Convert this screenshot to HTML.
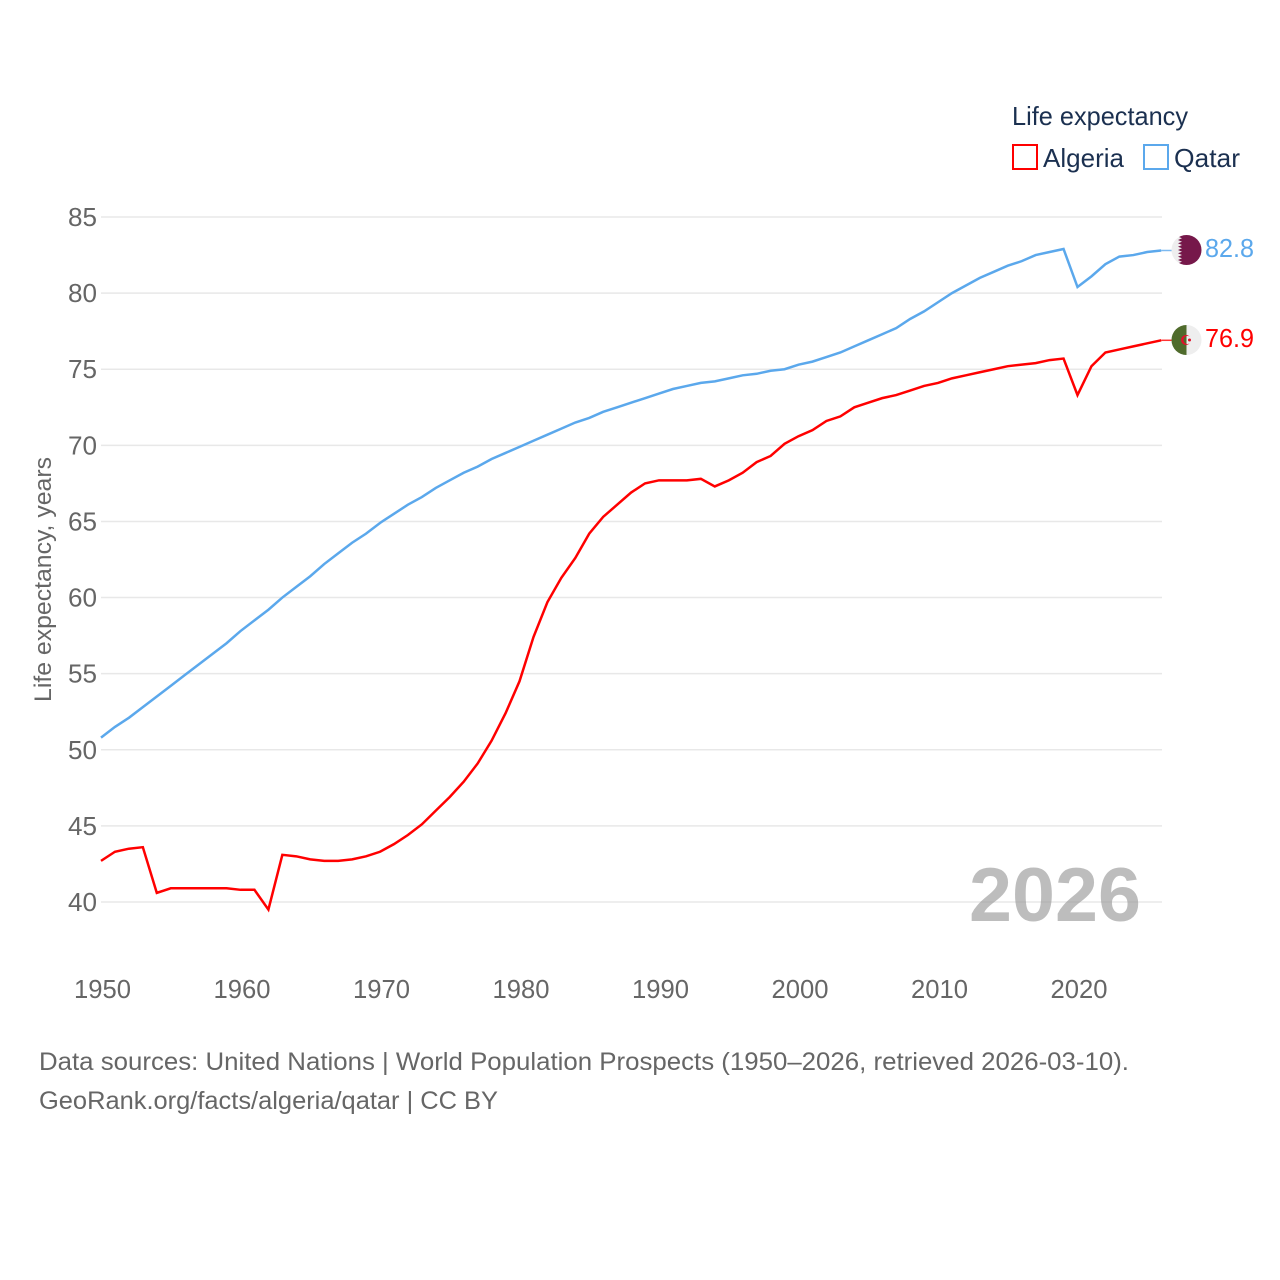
<!DOCTYPE html>
<html lang="en">
<head>
<meta charset="utf-8">
<title>Life expectancy: Algeria and Qatar</title>
<style>
html,body{margin:0;padding:0;background:#fff;}
svg{display:block;}
text{font-family:"Liberation Sans",sans-serif;}
</style>
</head>
<body>
<svg id="chart" xmlns="http://www.w3.org/2000/svg" width="1280" height="1280" viewBox="0 0 1280 1280">
  <rect x="0" y="0" width="1280" height="1280" fill="#ffffff"/>
  <g id="grid"></g>
  <g id="yticks"></g>
  <g id="xticks"></g>
  <text transform="translate(51,579.5) rotate(-90)" text-anchor="middle" font-size="24.5" fill="#666666" textLength="245" lengthAdjust="spacingAndGlyphs">Life expectancy, years</text>
  <text x="969" y="921" font-size="76" font-weight="700" fill="#999999" fill-opacity="0.65" textLength="172" lengthAdjust="spacingAndGlyphs">2026</text>
  <g id="series"></g>
  <g>
    <text x="1012" y="125" font-size="26" fill="#1b3050" textLength="176" lengthAdjust="spacingAndGlyphs">Life expectancy</text>
    <g>
      <rect x="1013" y="145" width="24" height="24" fill="none" stroke="#ff0000" stroke-width="2"/>
      <text x="1043" y="167" font-size="26" fill="#1b3050" textLength="81" lengthAdjust="spacingAndGlyphs">Algeria</text>
    </g>
    <g>
      <rect x="1144" y="145" width="24" height="24" fill="none" stroke="#5ba8ec" stroke-width="2"/>
      <text x="1174" y="167" font-size="26" fill="#1b3050" textLength="66" lengthAdjust="spacingAndGlyphs">Qatar</text>
    </g>
  </g>
  <defs>
    <clipPath id="flag-clip-qatar"><circle cx="1186.5" cy="250" r="15"/></clipPath>
    <clipPath id="flag-clip-algeria"><circle cx="1186.5" cy="340" r="15"/></clipPath>
  </defs>
  <g clip-path="url(#flag-clip-qatar)">
    <rect x="1171" y="234" width="31" height="32" fill="#eeeeee"/>
    <polygon fill="#76184a" points="1202,235 1182,235 1178,236.6 1182,238.3 1178,240 1182,241.7 1178,243.3 1182,245 1178,246.7 1182,248.3 1178,250 1182,251.7 1178,253.3 1182,255 1178,256.7 1182,258.3 1178,260 1182,261.7 1178,263.3 1182,265 1202,265"/>
  </g>
  <g clip-path="url(#flag-clip-algeria)">
    <rect x="1171" y="324" width="31" height="32" fill="#eeeeee"/>
    <rect x="1171" y="324" width="15.5" height="32" fill="#4f6b2c"/>
    <path fill="#e0102a" d="M1189.75,336.69 A5,5 0 1 0 1189.75,343.31 A4,4 0 1 1 1189.75,336.69 Z"/>
    <circle cx="1189.5" cy="340" r="1.5" fill="#e0102a"/>
  </g>
  <text x="1205" y="257" font-size="26" fill="#5ba8ec" textLength="49" lengthAdjust="spacingAndGlyphs">82.8</text>
  <text x="1205" y="347" font-size="26" fill="#ff0000" textLength="49" lengthAdjust="spacingAndGlyphs">76.9</text>
  <text x="39" y="1070" font-size="25" fill="#666666" textLength="1090" lengthAdjust="spacingAndGlyphs">Data sources: United Nations | World Population Prospects (1950–2026, retrieved 2026-03-10).</text>
  <text x="39" y="1109" font-size="25" fill="#666666" textLength="459" lengthAdjust="spacingAndGlyphs">GeoRank.org/facts/algeria/qatar | CC BY</text>
</svg>
<script>
const startYear = 1950;
const yTickLabels = [40, 45, 50, 55, 60, 65, 70, 75, 80, 85];
const xTickLabels = [1950, 1960, 1970, 1980, 1990, 2000, 2010, 2020];
const algeriaValues = [42.7,43.3,43.5,43.6,40.6,40.9,40.9,40.9,40.9,40.9,
  40.8,40.8,39.5,43.1,43.0,42.8,42.7,42.7,42.8,43.0,
  43.3,43.8,44.4,45.1,46.0,46.9,47.9,49.1,50.6,52.4,
  54.5,57.4,59.7,61.3,62.6,64.2,65.3,66.1,66.9,67.5,
  67.7,67.7,67.7,67.8,67.3,67.7,68.2,68.9,69.3,70.1,
  70.6,71.0,71.6,71.9,72.5,72.8,73.1,73.3,73.6,73.9,
  74.1,74.4,74.6,74.8,75.0,75.2,75.3,75.4,75.6,75.7,
  73.3,75.2,76.1,76.3,76.5,76.7,76.9];
const qatarValues = [50.8,51.5,52.1,52.8,53.5,54.2,54.9,55.6,56.3,57.0,
  57.8,58.5,59.2,60.0,60.7,61.4,62.2,62.9,63.6,64.2,
  64.9,65.5,66.1,66.6,67.2,67.7,68.2,68.6,69.1,69.5,
  69.9,70.3,70.7,71.1,71.5,71.8,72.2,72.5,72.8,73.1,
  73.4,73.7,73.9,74.1,74.2,74.4,74.6,74.7,74.9,75.0,
  75.3,75.5,75.8,76.1,76.5,76.9,77.3,77.7,78.3,78.8,
  79.4,80.0,80.5,81.0,81.4,81.8,82.1,82.5,82.7,82.9,
  80.4,81.1,81.9,82.4,82.5,82.7,82.8];

const NS = 'http://www.w3.org/2000/svg';
const xScale = function (year) { return 101 + (year - 1950) * 13.95; };
const yScale = function (value) { return 217 + (85 - value) * 15.222; };

const grid = document.getElementById('grid');
const yticks = document.getElementById('yticks');
const xticks = document.getElementById('xticks');
const seriesGroup = document.getElementById('series');

yTickLabels.forEach(function (tick) {
  const line = document.createElementNS(NS, 'line');
  
  
  line.setAttribute('x1', xScale(1950));
  line.setAttribute('x2', 1162);
  line.setAttribute('y1', yScale(tick));
  line.setAttribute('y2', yScale(tick));
  line.setAttribute('stroke', '#e8e8e8');
  line.setAttribute('stroke-width', '1.5');
  grid.appendChild(line);

  const label = document.createElementNS(NS, 'text');
  
  
  label.setAttribute('x', 68);
  label.setAttribute('y', yScale(tick) + 9);
  label.setAttribute('font-size', '26');
  label.setAttribute('fill', '#666666');
  label.setAttribute('textLength', '29');
  label.setAttribute('lengthAdjust', 'spacingAndGlyphs');
  label.textContent = tick;
  yticks.appendChild(label);
});

xTickLabels.forEach(function (tick) {
  const label = document.createElementNS(NS, 'text');
  
  
  label.setAttribute('x', xScale(tick) - 27);
  label.setAttribute('y', 998);
  label.setAttribute('font-size', '26');
  label.setAttribute('fill', '#666666');
  label.setAttribute('textLength', '57');
  label.setAttribute('lengthAdjust', 'spacingAndGlyphs');
  label.textContent = tick;
  xticks.appendChild(label);
});

function drawSeries(values, color, name) {
  const pts = values.map(function (v, i) {
    return xScale(startYear + i).toFixed(2) + ',' + yScale(v).toFixed(2);
  });
  const line = document.createElementNS(NS, 'polyline');
  
  
  line.setAttribute('points', pts.join(' '));
  line.setAttribute('fill', 'none');
  line.setAttribute('stroke', color);
  line.setAttribute('stroke-width', '2.5');
  line.setAttribute('stroke-linejoin', 'miter');
  seriesGroup.appendChild(line);

  const last = values[values.length - 1];
  const lastX = xScale(startYear + values.length - 1);
  const connector = document.createElementNS(NS, 'line');
  
  
  connector.setAttribute('x1', lastX);
  connector.setAttribute('x2', lastX + 12);
  connector.setAttribute('y1', yScale(last));
  connector.setAttribute('y2', yScale(last));
  connector.setAttribute('stroke', color);
  connector.setAttribute('stroke-width', '1.5');
  connector.setAttribute('stroke-opacity', '0.8');
  seriesGroup.appendChild(connector);
}

drawSeries(algeriaValues, '#ff0000', 'algeria');
drawSeries(qatarValues, '#5ba8ec', 'qatar');
</script>
</body>
</html>
